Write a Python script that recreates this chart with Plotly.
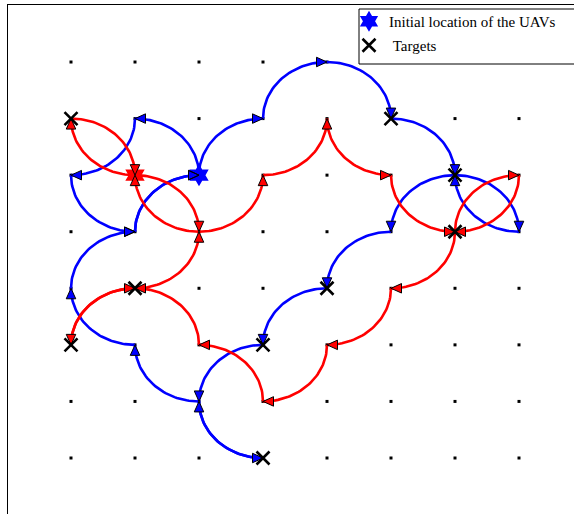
import math
import plotly.graph_objects as go

# ---- data -------------------------------------------------------------
# lattice of admissible waypoints
GRID_X = list(range(8))
GRID_Y = list(range(8))

# take-off cells of the two UAVs
BLUE_START_X = [2]
BLUE_START_Y = [5]
RED_START_X = [1]
RED_START_Y = [5]

# target cells
TARGET_X = [0, 5, 6, 6, 1, 4, 0, 3, 3]
TARGET_Y = [6, 6, 5, 4, 3, 3, 2, 2, 0]

# routes: visited waypoints and how each leg leaves its start point
# ('h' = leaves horizontally, 'v' = leaves vertically); every leg is a quarter turn
BLUE_ROUTE_X = [2, 1, 0, 1, 2, 3, 4, 5, 6, 7, 6, 5, 4, 3, 2, 3, 2, 1, 0, 1, 2]
BLUE_ROUTE_Y = [5, 6, 5, 4, 5, 6, 7, 6, 5, 4, 5, 4, 3, 2, 1, 0, 1, 2, 3, 4, 5]
BLUE_TURNS = "vvvvvvhhhhhhhhvhhhvv"

RED_ROUTE_X = [1, 0, 1, 2, 3, 4, 5, 6, 7, 6, 5, 4, 3, 2, 1, 0, 1, 2, 1]
RED_ROUTE_Y = [5, 6, 5, 4, 5, 6, 5, 4, 5, 4, 3, 2, 1, 2, 3, 2, 3, 4, 5]
RED_TURNS = "hhhhhvvvvvvvvvhvhh"

# ---- layout constants -------------------------------------------------
W, H = 574, 514
ML, MT = 8, 5                 # left / top margins (px)
ORIGIN_PX = (71, 458)         # pixel position of cell (0, 0)
UNIT_X, UNIT_Y = 64.0, 56.57  # pixels per cell
ARROW_LEN, ARROW_WID = 10.5, 9.5
LEGEND_BOX = (359, 9, 590, 64)  # left, top, right, bottom in px

x_lo = -(ORIGIN_PX[0] - ML) / UNIT_X
x_hi = x_lo + (W - ML) / UNIT_X
y_hi = (ORIGIN_PX[1] - MT) / UNIT_Y
y_lo = y_hi - (H - MT) / UNIT_Y


def px_to_paper(px, py):
    return (px - ML) / (W - ML), 1 - (py - MT) / (H - MT)


def quarter_arc(p, q, turn, n=40):
    """Quarter circle of radius one cell from p to q."""
    if turn == "h":
        cx, cy = p[0], q[1]
    else:
        cx, cy = q[0], p[1]
    a0 = math.atan2(p[1] - cy, p[0] - cx)
    a1 = math.atan2(q[1] - cy, q[0] - cx)
    d = (a1 - a0 + math.pi) % (2 * math.pi) - math.pi
    xs = [cx + math.cos(a0 + d * k / n) for k in range(n + 1)]
    ys = [cy + math.sin(a0 + d * k / n) for k in range(n + 1)]
    return xs, ys


def arrival_heading(p, q, turn):
    if turn == "h":
        return 0.0, math.copysign(1.0, q[1] - p[1])
    return math.copysign(1.0, q[0] - p[0]), 0.0


def route_geometry(rx, ry, turns):
    lx, ly, tx, ty = [], [], [], []
    for i, turn in enumerate(turns):
        p = (rx[i], ry[i])
        q = (rx[i + 1], ry[i + 1])
        xs, ys = quarter_arc(p, q, turn)
        lx += xs + [None]
        ly += ys + [None]
        hx, hy = arrival_heading(p, q, turn)
        # triangle with its tip on the waypoint, pointing along the heading
        bx = q[0] - hx * ARROW_LEN / UNIT_X
        by = q[1] - hy * ARROW_LEN / UNIT_Y
        px_, py_ = -hy, hx
        hw_x = px_ * ARROW_WID / 2 / UNIT_X
        hw_y = py_ * ARROW_WID / 2 / UNIT_Y
        tx += [q[0], bx + hw_x, bx - hw_x, q[0], None]
        ty += [q[1], by + hw_y, by - hw_y, q[1], None]
    return lx, ly, tx, ty


fig = go.Figure()

# waypoint lattice
fig.add_trace(go.Scatter(
    x=[gx for gx in GRID_X for _ in GRID_Y],
    y=[gy for _ in GRID_X for gy in GRID_Y],
    mode="markers",
    marker=dict(symbol="square", size=3, color="black", line=dict(width=0)),
    showlegend=False, hoverinfo="skip",
))

routes = [
    (BLUE_ROUTE_X, BLUE_ROUTE_Y, BLUE_TURNS, "#0000ff"),
    (RED_ROUTE_X, RED_ROUTE_Y, RED_TURNS, "#ff0000"),
]
arrows = []
for rx, ry, turns, color in routes:
    lx, ly, tx, ty = route_geometry(rx, ry, turns)
    fig.add_trace(go.Scatter(
        x=lx, y=ly, mode="lines",
        line=dict(color=color, width=2.6),
        showlegend=False, hoverinfo="skip",
    ))
    arrows.append((tx, ty, color))

# take-off positions
fig.add_trace(go.Scatter(
    x=BLUE_START_X, y=BLUE_START_Y, mode="markers",
    name="Initial location of the UAVs",
    marker=dict(symbol="hexagram", size=17, color="#0000ff", line=dict(width=0)),
    legendgroup="start",
))
fig.add_trace(go.Scatter(
    x=RED_START_X, y=RED_START_Y, mode="markers",
    marker=dict(symbol="hexagram", size=17, color="#ff0000", line=dict(width=0)),
    showlegend=False, hoverinfo="skip",
))

# direction arrows
for tx, ty, color in arrows:
    fig.add_trace(go.Scatter(
        x=tx, y=ty, mode="lines", fill="toself", fillcolor=color,
        line=dict(color="black", width=1),
        showlegend=False, hoverinfo="skip",
    ))

# targets
fig.add_trace(go.Scatter(
    x=TARGET_X, y=TARGET_Y, mode="markers", name="\u00a0Targets",
    marker=dict(symbol="x-thin", size=13, color="black",
                line=dict(color="black", width=2.6)),
    legendgroup="targets",
))

# legend frame
bx0, by0 = px_to_paper(LEGEND_BOX[0], LEGEND_BOX[1])
bx1, by1 = px_to_paper(LEGEND_BOX[2], LEGEND_BOX[3])
fig.add_shape(type="rect", xref="paper", yref="paper",
              x0=bx0, y0=by1, x1=bx1, y1=by0,
              line=dict(color="black", width=1), fillcolor="white", layer="above")

lgx, lgy = px_to_paper(349, 5)
fig.update_layout(
    width=W, height=H,
    margin=dict(l=ML, r=0, t=MT, b=0),
    plot_bgcolor="white", paper_bgcolor="white",
    xaxis=dict(range=[x_lo, x_hi], side="top", showline=True, linecolor="black",
               linewidth=1, showgrid=False, zeroline=False, showticklabels=False,
               ticks=""),
    yaxis=dict(range=[y_lo, y_hi], showline=True, linecolor="black", linewidth=1,
               showgrid=False, zeroline=False, showticklabels=False, ticks=""),
    legend=dict(
        x=lgx, y=lgy, xanchor="left", yanchor="top",
        bgcolor="rgba(0,0,0,0)", borderwidth=0,
        font=dict(family="Liberation Serif", size=15, color="black"),
        tracegroupgap=1.5,
    ),
    showlegend=True,
)

fig.write_html("out.html")
